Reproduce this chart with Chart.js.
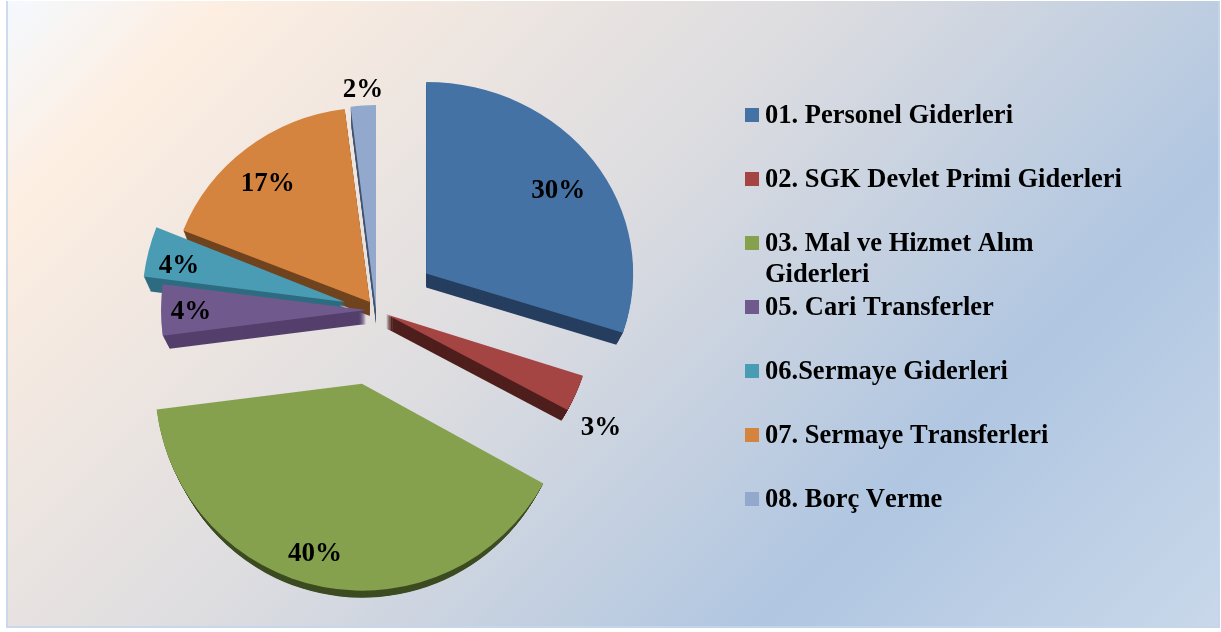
<!DOCTYPE html>
<html lang="tr">

<head>
    <meta charset="UTF-8">
    <title>Giderler</title>
    <style>
        body {
            margin: 0;
            background: #fff;
            font-family: "Liberation Serif", serif;
        }

        .bg {
            position: absolute;
            left: 6px;
            top: 1px;
            width: 1214px;
            height: 627px;
            box-sizing: border-box;
            border: solid rgba(196, 214, 236, 0.85);
            border-width: 0 2px 2px 2px;
            background: linear-gradient(135deg, #f4f9ff 0%, #fdeee1 12%, #dcdce0 45%, #b0c6e1 75%, #c9d8ea 100%) border-box;
        }

        #myChart {
            position: absolute;
            left: 0;
            top: 0;
        }

        #legend {
            position: absolute;
            left: 745px;
            top: 99px;
            margin: 0;
            padding: 0;
            list-style: none;
            font-weight: bold;
            font-size: 26.5px;
            line-height: 30.5px;
            font-kerning: none;
            color: #000;
        }

        #legend li {
            height: 64px;
            width: 380px;
            display: flex;
        }

        #legend i {
            flex: none;
            width: 14px;
            height: 14px;
            margin: 9px 6px 0 0;
        }

        #legend span {
            width: 358px;
        }
    </style>
</head>

<body>
    <div class="bg"></div>
    <canvas id="myChart" width="1221" height="632"></canvas>
    <ul id="legend"></ul>

    <script src="https://cdn.jsdelivr.net/npm/chart.js"></script>
    <script>
        // pay yuzdeleri
        const categories = [
            '01. Personel Giderleri',
            '02. SGK Devlet Primi Giderleri',
            '03. Mal ve Hizmet Alım Giderleri',
            '05. Cari Transferler',
            '06.Sermaye Giderleri',
            '07. Sermaye Transferleri',
            '08. Borç Verme'
        ];
        const shares = [30, 3, 40, 4, 4, 17, 2];

        // renkler
        const topColors = ['#4572a5', '#a54543', '#85a14d', '#705a8d', '#4a9cb4', '#d5843f', '#93a8cd'];
        const sideColors = ['#263e5f', '#4f1f1d', '#3d4c22', '#553f6c', '#2e6c80', '#70441f', '#46556f'];

        // dilimlerin merkezden uzakligi ve perspektif olcegi
        const explode = [62, 11, 75, 10, 32, 10, 0];
        const sliceScale = [[1, 0.925], [1, 0.96], [1, 1], [0.99, 0.99], [0.98, 0.98], [0.97, 0.94], [0.98, 0.99]];
        // etiketlerin dilim tepesine gore yeri
        const labelShift = [[132, -83], [215, 114], [-47, 170], [-175, 2], [-166, -36], [-102, -118], [-13, -220]];

        const depth = 14;
        const depthShrink = 0.5;

        function placeSlice(ctx, arc, i, drop) {
            const mid = (arc.startAngle + arc.endAngle) / 2;
            ctx.translate(arc.x + Math.cos(mid) * explode[i], arc.y + Math.sin(mid) * explode[i] + drop);
            ctx.scale(sliceScale[i][0], sliceScale[i][1]);
            ctx.translate(-arc.x, -arc.y);
        }

        const pie3d = {
            id: 'pie3d',
            // her dilimi kendi yerine tasi
            afterDatasetUpdate(chart) {
                chart.getDatasetMeta(0).data.forEach((arc, i) => {
                    const baseDraw = Object.getPrototypeOf(arc).draw;
                    arc.draw = function (ctx) {
                        ctx.save();
                        placeSlice(ctx, arc, i, 0);
                        baseDraw.call(arc, ctx);
                        ctx.restore();
                    };
                });
            },
            // yan yuzeyler
            beforeDatasetsDraw(chart) {
                const ctx = chart.ctx;
                const arcs = chart.getDatasetMeta(0).data;
                for (let i = arcs.length - 1; i >= 0; i--) {
                    const arc = arcs[i];
                    ctx.fillStyle = sideColors[i];
                    for (let d = depth; d >= 1; d--) {
                        ctx.save();
                        placeSlice(ctx, arc, i, d);
                        ctx.beginPath();
                        ctx.moveTo(arc.x, arc.y);
                        ctx.arc(arc.x, arc.y, arc.outerRadius - d * depthShrink, arc.startAngle, arc.endAngle);
                        ctx.closePath();
                        ctx.fill();
                        ctx.restore();
                    }
                }
            },
            // yuzde etiketleri
            afterDatasetsDraw(chart) {
                const ctx = chart.ctx;
                ctx.save();
                ctx.font = 'bold 27px "Liberation Serif"';
                ctx.fillStyle = '#000';
                ctx.textAlign = 'center';
                ctx.textBaseline = 'middle';
                chart.getDatasetMeta(0).data.forEach((arc, i) => {
                    const mid = (arc.startAngle + arc.endAngle) / 2;
                    const x = arc.x + Math.cos(mid) * explode[i] + labelShift[i][0];
                    const y = arc.y + Math.sin(mid) * explode[i] + labelShift[i][1];
                    ctx.fillText(shares[i] + '%', x, y);
                });
                ctx.restore();
            }
        };

        new Chart(document.getElementById('myChart'), {
            type: 'pie',
            data: {
                labels: categories,
                datasets: [{
                    data: shares,
                    backgroundColor: topColors,
                    borderWidth: 0,
                    radius: 207
                }]
            },
            options: {
                responsive: false,
                animation: false,
                layout: { padding: { left: 0, top: 0, right: 469, bottom: 12 } },
                plugins: {
                    legend: { display: false },
                    tooltip: { enabled: false }
                }
            },
            plugins: [pie3d]
        });

        // lejant
        const legendBox = document.getElementById('legend');
        categories.forEach((name, i) => {
            const row = document.createElement('li');
            row.innerHTML = `<i style="background:${topColors[i]}"></i><span>${name}</span>`;
            legendBox.appendChild(row);
        });
    </script>
</body>

</html>
